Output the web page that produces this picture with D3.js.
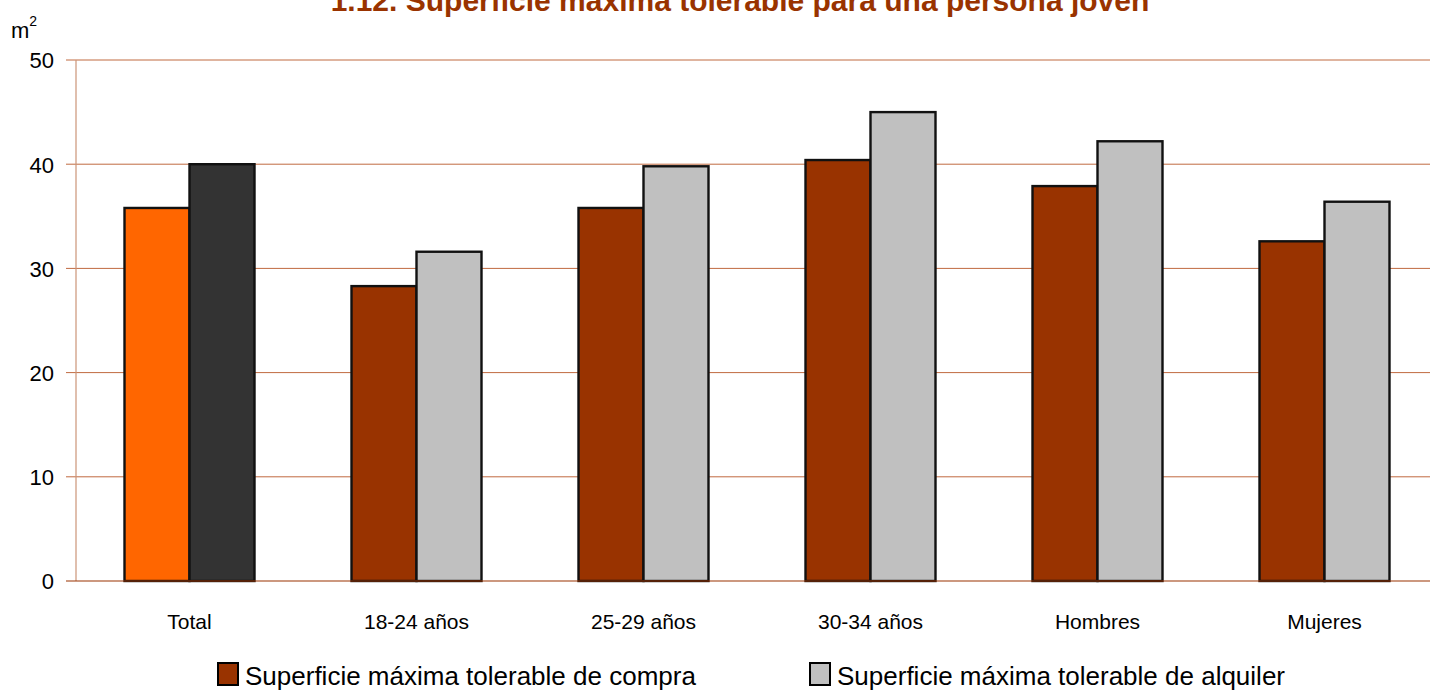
<!DOCTYPE html>
<html><head><meta charset="utf-8">
<script src="https://cdn.jsdelivr.net/npm/d3@7"></script>
<style>body{margin:0;background:#fff}svg{display:block;font-family:"Liberation Sans",Arial,sans-serif}</style>
</head><body><svg id="c" width="1430" height="693"></svg>
<script>
const categories = ["Total","18-24 años","25-29 años","30-34 años","Hombres","Mujeres"];
const compra = [35.8, 28.3, 35.8, 40.4, 37.9, 32.6];
const alquiler = [40.0, 31.6, 39.8, 45.0, 42.2, 36.4];
const yTicks = [0,10,20,30,40,50];
const seriesNames = ["Superficie máxima tolerable de compra","Superficie máxima tolerable de alquiler"];
const title = "1.12. Superficie máxima tolerable para una persona joven";

const svg = d3.select("#c");
const x = d3.scaleBand().domain(categories).range([76,1438]);
const y = d3.scaleLinear().domain([0,50]).range([581,60]);
const inner = d3.scaleBand().domain([0,1]).range([0, 130]);
const off = (x.bandwidth()-130)/2;

svg.append("text").attr("x",740).attr("y",11).attr("text-anchor","middle")
  .attr("font-size",30).attr("font-weight","bold").attr("fill","#993300").text(title);

// gridlines
svg.append("g").selectAll("line").data(yTicks.filter(d=>d>0)).join("line")
  .attr("x1",66).attr("x2",1430).attr("y1",d=>y(d)).attr("y2",d=>y(d))
  .attr("stroke","#C06A40").attr("stroke-width",1);
// left axis
svg.append("line").attr("x1",76).attr("x2",76).attr("y1",y(50)).attr("y2",y(0)).attr("stroke","#CC9477").attr("stroke-width",1.2);

const yAxis = d3.axisLeft(y).tickValues(yTicks).tickSize(0).tickPadding(0);
const ga = svg.append("g").attr("transform","translate(54,0)").call(yAxis);
ga.select(".domain").remove();
ga.selectAll("text").attr("font-size",22).attr("fill","#000").attr("font-family","Liberation Sans, Arial, sans-serif").attr("dy","0.36em");

svg.append("text").attr("x",11).attr("y",38).attr("font-size",22).text("m")
  .append("tspan").attr("font-size",14).attr("dy",-12).text("2");

const colors = [
  categories.map((c,i)=> i===0 ? "#FF6600" : "#993300"),
  categories.map((c,i)=> i===0 ? "#333333" : "#C0C0C0")
];
[compra, alquiler].forEach((vals,s)=>{
  svg.append("g").selectAll("rect").data(vals).join("rect")
    .attr("x",(d,i)=>x(categories[i])+off+inner(s))
    .attr("width",inner.bandwidth())
    .attr("y",d=>y(d)).attr("height",d=>y(0)-y(d))
    .attr("fill",(d,i)=>colors[s][i]).attr("stroke","#111").attr("stroke-width",2.4);
});
// baseline
svg.append("line").attr("x1",66).attr("x2",1430).attr("y1",y(0)).attr("y2",y(0)).attr("stroke","#993300").attr("stroke-width",1.2);

const xAxis = d3.axisBottom(x).tickSize(0).tickPadding(0);
const gx = svg.append("g").attr("transform","translate(0,621)").call(xAxis);
gx.select(".domain").remove();
gx.selectAll("text").attr("font-size",21).attr("fill","#000").attr("font-family","Liberation Sans, Arial, sans-serif").attr("dy","0.36em");

const leg = svg.append("g");
const lx = [218, 810];
seriesNames.forEach((n,i)=>{
  leg.append("rect").attr("x",lx[i]).attr("y",663).attr("width",20).attr("height",22)
    .attr("fill",i===0?"#993300":"#C0C0C0").attr("stroke","#000").attr("stroke-width",2);
  leg.append("text").attr("x",lx[i]+27).attr("y",685).attr("font-size",26).text(n);
});
</script></body></html>
